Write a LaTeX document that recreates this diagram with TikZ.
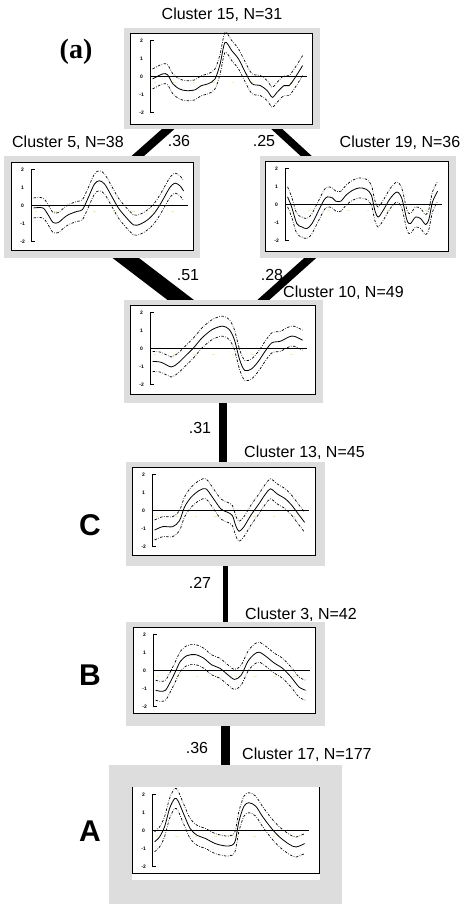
\documentclass[tikz,border=0pt]{standalone}
\usepackage{fontspec}
\setmainfont{Liberation Sans}
\newfontfamily\serifbf{Liberation Serif}
\usepackage{xcolor}
\usepackage{tikz}
\usetikzlibrary{calc,backgrounds}

\definecolor{framegray}{RGB}{221,221,221}
\definecolor{dotyellow}{RGB}{248,238,165}

\newcommand{\clplot}[2]{%
\begin{scope}[shift={($(#1.north west)+(21,44)$)}, y=18pt]
  \foreach \k in {0,...,7} \fill[dotyellow] ({3+19.5*\k},-0.36) rectangle ++(2.5,0.08);
  \draw[axisline] (3,2) -- (0,2) -- (0,-2) -- (3,-2);
  \foreach \v in {-2,...,2} \node[ticklbl] (#1tick\v) at (-9,\v) {\v};
  \draw[zeroline] (0,0) -- (156,0);
  \draw[bound, xshift=2pt, xscale=1.5, yshift=10pt] plot[smooth, tension=0.5] coordinates {#2};
  \draw[bound, xshift=2pt, xscale=1.5, yshift=-10pt] plot[smooth, tension=0.5] coordinates {#2};
  \draw[meanline, xshift=2pt, xscale=1.5] plot[smooth, tension=0.5] coordinates {#2};
\end{scope}}

\begin{document}
\begin{tikzpicture}[
x=1pt, y=-1pt,
frame/.style={fill=framegray, inner sep=0pt, minimum width=196pt, minimum height=102pt},
plotbox/.style={draw, fill=white, line width=0.8pt, inner sep=0pt, minimum width=182pt, minimum height=89pt},
band/.style={line width=#1, shorten <=-18pt, shorten >=-18pt},
ttl/.style={font=\fontsize{16}{19}\selectfont, inner sep=0pt},
wlbl/.style={font=\fontsize{16}{19}\selectfont, inner sep=0pt},
letter/.style={font=\fontsize{30}{34}\selectfont\bfseries, inner sep=0pt},
ticklbl/.style={font=\fontsize{5}{6}\selectfont\bfseries, inner sep=0pt},
axisline/.style={line width=0.7pt},
zeroline/.style={line width=0.9pt},
meanline/.style={line width=0.8pt},
bound/.style={line width=0.7pt, dash pattern=on 2.5pt off 1.5pt on 0.6pt off 1.5pt}
]
\useasboundingbox (0,0) rectangle (473,906);
\begin{pgfonlayer}{background}
\fill[white] (0,0) rectangle (473,906);
\end{pgfonlayer}

\node[frame, minimum height=101pt] (c15) at (222,78.5) {};
\node[frame] (c5) at (102,207) {};
\node[frame] (c19) at (358,207) {};
\node[frame, minimum width=199pt, minimum height=103pt] (c10) at (223,351.5) {};
\node[frame, minimum width=199pt, minimum height=104pt] (c13) at (225.5,514) {};
\node[frame, minimum width=199pt, minimum height=104pt] (c3) at (225.5,674) {};
\node[frame, minimum width=233pt, minimum height=139pt] (c17) at (225.5,834.5) {};

\node[plotbox, minimum height=91pt] (c15p) at (221,78.5) {};
\node[plotbox, minimum height=88pt] (c5p) at (102,206) {};
\node[plotbox, minimum width=183pt, minimum height=90pt] (c19p) at (356.5,206) {};
\node[plotbox, minimum width=185pt] (c10p) at (222.5,349.5) {};
\node[plotbox, minimum width=183pt, minimum height=88pt] (c13p) at (223.5,511) {};
\node[plotbox, minimum height=86pt] (c3p) at (224,670) {};
\node[plotbox, draw=none, minimum width=188pt, minimum height=93pt] (c17p) at (226,833.5) {};
\draw[line width=0.8pt] ([xshift=1pt]c17p.north west) -- ([shift={(1pt,7pt)}]c17p.south west)
  -- ([shift={(-1pt,7pt)}]c17p.south east) -- ([xshift=-1pt]c17p.north east);

\begin{pgfonlayer}{background}
\draw[band=8.3pt] ([xshift=-54pt]c15.south) -- ([xshift=36pt]c5.north);
\draw[band=7.5pt] ([xshift=55pt]c15.south) -- ([xshift=-52pt]c19.north);
\draw[band=16pt] ([xshift=24pt]c5.south) -- ([xshift=-42.5pt]c10.north);
\draw[band=8pt] ([xshift=-48pt]c19.south) -- ([xshift=40.5pt]c10.north);
\draw[band=8pt] (c10.south) -- (c10.south |- c13.north);
\draw[band=5.5pt] (c13.south) -- (c13.south |- c3.north);
\draw[band=9pt] (c3.south) -- (c3.south |- c17.north);
\end{pgfonlayer}

\clplot{c15p}{(0,-0.13) (6.7,0.15) (10,0.1) (13.5,-0.4) (18,-0.69) (22.5,-0.78) (28,-0.74) (32.6,-0.5) (37,-0.4) (41.6,-0.13) (45,0.7) (48.3,1.9) (52.8,1.44) (57.3,0.98) (61.8,0.24) (66.3,-0.4) (71.9,-0.5) (76.4,-0.78) (79.8,-1.15) (83,-0.87) (87.6,-0.5) (91,-0.5) (94.4,-0.13) (100,0.61)}
\clplot{c5p}{(0,-0.13) (6.2,-0.13) (9.6,-0.5) (13,-0.94) (16.5,-0.94) (19.9,-0.7) (23.3,-0.5) (29,-0.32) (32.5,-0.23) (35.9,0.34) (40.5,1.19) (43.9,1.38) (47.4,1.19) (52,0.53) (56.5,-0.13) (61.1,-0.6) (66.8,-1.08) (71.4,-1.02) (76,-0.79) (80.5,-0.42) (85,0.15) (90.8,1.0) (94.3,1.25) (97.7,1.09) (100,0.81)}
\clplot{c19p}{(0,0.43) (2.7,-0.13) (6.1,-1.05) (9.5,-1.24) (12.9,-1.33) (16.3,-1.05) (20.8,-0.31) (24.2,0.24) (26.5,0.43) (29.9,0.37) (32.1,0.19) (35.5,0.19) (38.9,0.52) (43.4,0.8) (47.9,0.93) (52.5,0.85) (55.9,0.52) (58.1,-0.31) (60.4,-0.69) (63.8,-0.31) (68.3,0.33) (72.9,0.7) (76.2,0.33) (79.6,-0.87) (81.9,-1.05) (85.3,-0.69) (88.7,-0.78) (92.1,-1.11) (94.3,-0.78) (96.6,0.15) (100,0.74)}
\clplot{c10p}{(0,-0.71) (5.7,-0.76) (12.5,-1.02) (17,-0.8) (21.6,-0.43) (27.3,0.04) (33,0.6) (39.8,1.06) (46.6,1.25) (51.1,1.06) (54.5,0.5) (58,-0.61) (61.4,-1.21) (65.9,-1.13) (70.5,-0.71) (75,-0.15) (79.5,0.32) (85.2,0.41) (90.9,0.65) (94.3,0.69) (100,0.47)}
\clplot{c13p}{(0,-1.08) (5.5,-0.89) (12.1,-0.89) (16.6,-0.56) (19.9,0.19) (24.3,0.74) (29.8,1.12) (34.2,1.21) (38.6,0.74) (44.2,0.09) (48.6,-0.09) (51.9,-0.28) (54.1,-0.84) (56.3,-1.15) (59.6,-0.89) (64,-0.28) (69.5,0.37) (74,0.93) (77.3,1.21) (81.7,0.93) (87.2,0.65) (91.6,0.28) (94.9,-0.09) (100,-0.65)}
\clplot{c3p}{(0,-1.09) (3.3,-1.15) (6.6,-1.09) (9.9,-0.62) (13.2,-0.06) (16.5,0.51) (20.9,0.83) (26.4,0.89) (31.9,0.7) (37.4,0.32) (42.9,0.13) (48.4,-0.25) (52.7,-0.49) (57.1,-0.25) (61.5,0.51) (65.9,0.92) (69.2,1.02) (73.6,0.79) (79.1,0.42) (84.6,0.13) (90.1,-0.34) (95.6,-0.91) (100,-1.09)}
\clplot{c17p}{(0,-0.62) (3.4,-0.34) (6.7,0.23) (10.1,1.26) (13.5,1.79) (15.7,1.64) (19.1,0.98) (23.6,0.13) (28.1,-0.25) (33.7,-0.43) (40.4,-0.72) (47.2,-0.85) (51.7,-0.81) (53.9,-0.53) (56.2,0.51) (59.6,1.36) (62.9,1.55) (67.4,1.36) (71.9,0.79) (77.5,0.17) (83.1,-0.34) (89.9,-0.77) (94.4,-0.91) (100,-0.72)}

\node[ttl] (t15) at (222,15) {Cluster 15, N=31};
\node[ttl] (t5) at (68,143) {Cluster 5, N=38};
\node[ttl] (t19) at (400,143) {Cluster 19, N=36};
\node[ttl, anchor=west] (t10) at (283,293) {Cluster 10, N=49};
\node[ttl, anchor=west] (t13) at (244,453) {Cluster 13, N=45};
\node[ttl, anchor=west] (t3) at (245,615) {Cluster 3, N=42};
\node[ttl, anchor=west] (t17) at (242,755) {Cluster 17, N=177};

\node[wlbl] (w15to5) at (179,141) {.36};
\node[wlbl] (w15to19) at (264,141) {.25};
\node[wlbl] (w5to10) at (188,275) {.51};
\node[wlbl] (w19to10) at (272,275) {.28};
\node[wlbl] (w10to13) at (200,428) {.31};
\node[wlbl] (w13to3) at (200,583) {.27};
\node[wlbl] (w3to17) at (197,748) {.36};

\node[letter, font=\fontsize{28}{32}\selectfont\serifbf\bfseries] (panel) at (76,52) {(a)};
\node[letter] (labC) at (90,525) {C};
\node[letter] (labB) at (90,675) {B};
\node[letter] (labA) at (90,831) {A};
\end{tikzpicture}
\end{document}
